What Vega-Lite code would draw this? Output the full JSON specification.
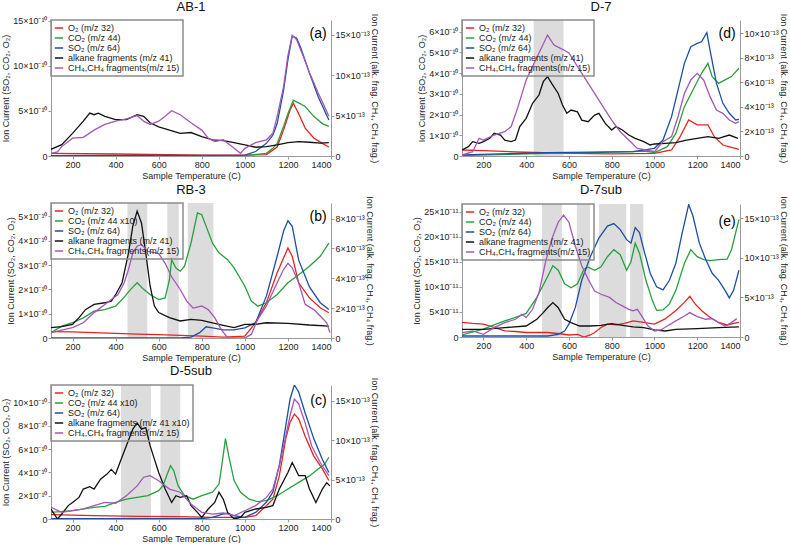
{
  "$schema": "https://vega.github.io/schema/vega-lite/v6.json",
  "description": "Ion current vs sample temperature for five samples, two y axes per panel.",
  "padding": {"left": 1, "top": 1, "right": 0, "bottom": 0},
  "datasets": {
    "ab1": [
      {"s":"O2","t":100,"v":0.3e-10},{"s":"O2","t":400,"v":0.22e-10},{"s":"O2","t":800,"v":0.1e-10},{"s":"O2","t":1000,"v":0.1e-10},{"s":"O2","t":1100,"v":0.15e-10},{"s":"O2","t":1150,"v":1.0e-10},{"s":"O2","t":1180,"v":2.9e-10},{"s":"O2","t":1210,"v":5.1e-10},{"s":"O2","t":1225,"v":5.85e-10},{"s":"O2","t":1250,"v":4.7e-10},{"s":"O2","t":1280,"v":3.1e-10},{"s":"O2","t":1320,"v":2.0e-10},{"s":"O2","t":1360,"v":1.4e-10},{"s":"O2","t":1390,"v":1.0e-10},
      {"s":"CO2","t":100,"v":0.05e-10},{"s":"CO2","t":1000,"v":0.05e-10},{"s":"CO2","t":1100,"v":0.3e-10},{"s":"CO2","t":1130,"v":0.85e-10},{"s":"CO2","t":1150,"v":1.4e-10},{"s":"CO2","t":1180,"v":3.3e-10},{"s":"CO2","t":1200,"v":4.7e-10},{"s":"CO2","t":1225,"v":6.2e-10},{"s":"CO2","t":1250,"v":5.9e-10},{"s":"CO2","t":1280,"v":5.5e-10},{"s":"CO2","t":1320,"v":4.4e-10},{"s":"CO2","t":1360,"v":3.6e-10},{"s":"CO2","t":1390,"v":3.3e-10},
      {"s":"SO2","t":100,"v":0.05e-10},{"s":"SO2","t":1000,"v":0.1e-10},{"s":"SO2","t":1050,"v":0.5e-10},{"s":"SO2","t":1100,"v":1.4e-10},{"s":"SO2","t":1130,"v":2.3e-10},{"s":"SO2","t":1150,"v":3.6e-10},{"s":"SO2","t":1180,"v":7.3e-10},{"s":"SO2","t":1200,"v":10.7e-10},{"s":"SO2","t":1220,"v":13.3e-10},{"s":"SO2","t":1240,"v":13.1e-10},{"s":"SO2","t":1260,"v":12.0e-10},{"s":"SO2","t":1300,"v":9.2e-10},{"s":"SO2","t":1340,"v":6.6e-10},{"s":"SO2","t":1390,"v":4.0e-10},
      {"s":"alk","t":100,"v":0.83e-13},{"s":"alk","t":150,"v":1.4e-13},{"s":"alk","t":200,"v":2.8e-13},{"s":"alk","t":250,"v":4.3e-13},{"s":"alk","t":280,"v":5.3e-13},{"s":"alk","t":300,"v":5.1e-13},{"s":"alk","t":320,"v":5.3e-13},{"s":"alk","t":350,"v":4.9e-13},{"s":"alk","t":400,"v":4.5e-13},{"s":"alk","t":450,"v":4.5e-13},{"s":"alk","t":500,"v":5.1e-13},{"s":"alk","t":530,"v":4.9e-13},{"s":"alk","t":560,"v":4.1e-13},{"s":"alk","t":600,"v":3.6e-13},{"s":"alk","t":650,"v":3.2e-13},{"s":"alk","t":700,"v":2.8e-13},{"s":"alk","t":750,"v":2.9e-13},{"s":"alk","t":800,"v":2.4e-13},{"s":"alk","t":850,"v":2.0e-13},{"s":"alk","t":900,"v":1.9e-13},{"s":"alk","t":950,"v":1.66e-13},{"s":"alk","t":1000,"v":1.37e-13},{"s":"alk","t":1050,"v":1.08e-13},{"s":"alk","t":1100,"v":1.16e-13},{"s":"alk","t":1150,"v":1.37e-13},{"s":"alk","t":1200,"v":1.66e-13},{"s":"alk","t":1250,"v":1.78e-13},{"s":"alk","t":1300,"v":1.7e-13},{"s":"alk","t":1350,"v":1.58e-13},{"s":"alk","t":1390,"v":1.66e-13},
      {"s":"CH4","t":100,"v":0.33e-13},{"s":"CH4","t":130,"v":0.5e-13},{"s":"CH4","t":150,"v":1.16e-13},{"s":"CH4","t":200,"v":2.2e-13},{"s":"CH4","t":250,"v":2.3e-13},{"s":"CH4","t":300,"v":3.2e-13},{"s":"CH4","t":350,"v":3.9e-13},{"s":"CH4","t":400,"v":4.3e-13},{"s":"CH4","t":450,"v":4.6e-13},{"s":"CH4","t":500,"v":5.0e-13},{"s":"CH4","t":530,"v":4.3e-13},{"s":"CH4","t":560,"v":3.9e-13},{"s":"CH4","t":600,"v":4.3e-13},{"s":"CH4","t":630,"v":4.9e-13},{"s":"CH4","t":660,"v":5.6e-13},{"s":"CH4","t":700,"v":5.1e-13},{"s":"CH4","t":750,"v":4.1e-13},{"s":"CH4","t":800,"v":3.2e-13},{"s":"CH4","t":830,"v":2.2e-13},{"s":"CH4","t":860,"v":1.78e-13},{"s":"CH4","t":900,"v":2.0e-13},{"s":"CH4","t":950,"v":0.95e-13},{"s":"CH4","t":980,"v":0.33e-13},{"s":"CH4","t":1000,"v":0.95e-13},{"s":"CH4","t":1050,"v":1.66e-13},{"s":"CH4","t":1100,"v":2.0e-13},{"s":"CH4","t":1130,"v":2.8e-13},{"s":"CH4","t":1150,"v":4.9e-13},{"s":"CH4","t":1180,"v":8.6e-13},{"s":"CH4","t":1200,"v":12.4e-13},{"s":"CH4","t":1220,"v":14.9e-13},{"s":"CH4","t":1240,"v":14.4e-13},{"s":"CH4","t":1270,"v":12.4e-13},{"s":"CH4","t":1300,"v":10.3e-13},{"s":"CH4","t":1340,"v":7.8e-13},{"s":"CH4","t":1370,"v":6.1e-13},{"s":"CH4","t":1390,"v":4.9e-13}
    ],
    "rb3": [
      {"s":"O2","t":100,"v":0.26e-10},{"s":"O2","t":200,"v":0.25e-10},{"s":"O2","t":300,"v":0.22e-10},{"s":"O2","t":400,"v":0.19e-10},{"s":"O2","t":500,"v":0.16e-10},{"s":"O2","t":600,"v":0.14e-10},{"s":"O2","t":700,"v":0.11e-10},{"s":"O2","t":800,"v":0.08e-10},{"s":"O2","t":900,"v":0.04e-10},{"s":"O2","t":1000,"v":0.08e-10},{"s":"O2","t":1050,"v":0.63e-10},{"s":"O2","t":1100,"v":1.45e-10},{"s":"O2","t":1150,"v":2.68e-10},{"s":"O2","t":1200,"v":3.7e-10},{"s":"O2","t":1220,"v":3.36e-10},{"s":"O2","t":1250,"v":2.27e-10},{"s":"O2","t":1300,"v":1.65e-10},{"s":"O2","t":1350,"v":1.24e-10},{"s":"O2","t":1390,"v":1.04e-10},
      {"s":"CO2","t":100,"v":0.22e-10},{"s":"CO2","t":150,"v":0.49e-10},{"s":"CO2","t":200,"v":0.63e-10},{"s":"CO2","t":250,"v":0.83e-10},{"s":"CO2","t":300,"v":1.1e-10},{"s":"CO2","t":350,"v":1.17e-10},{"s":"CO2","t":400,"v":1.31e-10},{"s":"CO2","t":430,"v":1.58e-10},{"s":"CO2","t":470,"v":2.0e-10},{"s":"CO2","t":500,"v":2.27e-10},{"s":"CO2","t":530,"v":2.0e-10},{"s":"CO2","t":560,"v":1.79e-10},{"s":"CO2","t":600,"v":1.58e-10},{"s":"CO2","t":630,"v":1.65e-10},{"s":"CO2","t":650,"v":2.4e-10},{"s":"CO2","t":660,"v":3.22e-10},{"s":"CO2","t":680,"v":2.88e-10},{"s":"CO2","t":700,"v":2.75e-10},{"s":"CO2","t":720,"v":2.95e-10},{"s":"CO2","t":750,"v":3.9e-10},{"s":"CO2","t":780,"v":5.14e-10},{"s":"CO2","t":800,"v":5.07e-10},{"s":"CO2","t":820,"v":4.6e-10},{"s":"CO2","t":850,"v":3.9e-10},{"s":"CO2","t":880,"v":3.5e-10},{"s":"CO2","t":920,"v":3.22e-10},{"s":"CO2","t":950,"v":2.88e-10},{"s":"CO2","t":1000,"v":2.13e-10},{"s":"CO2","t":1030,"v":1.52e-10},{"s":"CO2","t":1060,"v":1.31e-10},{"s":"CO2","t":1100,"v":1.45e-10},{"s":"CO2","t":1150,"v":1.79e-10},{"s":"CO2","t":1200,"v":2.27e-10},{"s":"CO2","t":1250,"v":2.6e-10},{"s":"CO2","t":1300,"v":2.95e-10},{"s":"CO2","t":1350,"v":3.36e-10},{"s":"CO2","t":1390,"v":3.9e-10},
      {"s":"SO2","t":100,"v":0},{"s":"SO2","t":700,"v":0},{"s":"SO2","t":750,"v":0.04e-10},{"s":"SO2","t":790,"v":0.22e-10},{"s":"SO2","t":820,"v":0.46e-10},{"s":"SO2","t":850,"v":0.42e-10},{"s":"SO2","t":900,"v":0.33e-10},{"s":"SO2","t":950,"v":0.33e-10},{"s":"SO2","t":1000,"v":0.42e-10},{"s":"SO2","t":1050,"v":0.63e-10},{"s":"SO2","t":1100,"v":1.72e-10},{"s":"SO2","t":1150,"v":3.36e-10},{"s":"SO2","t":1180,"v":4.4e-10},{"s":"SO2","t":1200,"v":4.82e-10},{"s":"SO2","t":1220,"v":4.59e-10},{"s":"SO2","t":1250,"v":3.2e-10},{"s":"SO2","t":1300,"v":2.1e-10},{"s":"SO2","t":1350,"v":1.45e-10},{"s":"SO2","t":1390,"v":1.17e-10},
      {"s":"alk","t":100,"v":0.69e-13},{"s":"alk","t":150,"v":0.76e-13},{"s":"alk","t":200,"v":0.91e-13},{"s":"alk","t":230,"v":1.36e-13},{"s":"alk","t":260,"v":1.9e-13},{"s":"alk","t":300,"v":2.25e-13},{"s":"alk","t":350,"v":2.36e-13},{"s":"alk","t":380,"v":2.47e-13},{"s":"alk","t":400,"v":2.9e-13},{"s":"alk","t":430,"v":3.7e-13},{"s":"alk","t":460,"v":5.7e-13},{"s":"alk","t":480,"v":7.5e-13},{"s":"alk","t":500,"v":8.5e-13},{"s":"alk","t":520,"v":7.7e-13},{"s":"alk","t":540,"v":5.7e-13},{"s":"alk","t":560,"v":3.5e-13},{"s":"alk","t":580,"v":2.14e-13},{"s":"alk","t":600,"v":1.7e-13},{"s":"alk","t":650,"v":1.36e-13},{"s":"alk","t":700,"v":1.14e-13},{"s":"alk","t":750,"v":1.25e-13},{"s":"alk","t":800,"v":1.18e-13},{"s":"alk","t":850,"v":1.02e-13},{"s":"alk","t":900,"v":0.85e-13},{"s":"alk","t":950,"v":0.69e-13},{"s":"alk","t":1000,"v":0.91e-13},{"s":"alk","t":1050,"v":0.91e-13},{"s":"alk","t":1100,"v":1.02e-13},{"s":"alk","t":1200,"v":0.98e-13},{"s":"alk","t":1300,"v":0.87e-13},{"s":"alk","t":1390,"v":0.8e-13},
      {"s":"CH4","t":100,"v":0.36e-13},{"s":"CH4","t":150,"v":0.53e-13},{"s":"CH4","t":200,"v":0.69e-13},{"s":"CH4","t":250,"v":1.02e-13},{"s":"CH4","t":300,"v":1.7e-13},{"s":"CH4","t":350,"v":2.25e-13},{"s":"CH4","t":380,"v":2.58e-13},{"s":"CH4","t":410,"v":2.9e-13},{"s":"CH4","t":440,"v":3.7e-13},{"s":"CH4","t":460,"v":4.6e-13},{"s":"CH4","t":480,"v":5.7e-13},{"s":"CH4","t":500,"v":6.15e-13},{"s":"CH4","t":520,"v":6.26e-13},{"s":"CH4","t":550,"v":5.8e-13},{"s":"CH4","t":600,"v":5.66e-13},{"s":"CH4","t":630,"v":5.0e-13},{"s":"CH4","t":660,"v":4.1e-13},{"s":"CH4","t":700,"v":3.25e-13},{"s":"CH4","t":730,"v":2.47e-13},{"s":"CH4","t":760,"v":2.0e-13},{"s":"CH4","t":800,"v":2.14e-13},{"s":"CH4","t":830,"v":1.9e-13},{"s":"CH4","t":860,"v":1.36e-13},{"s":"CH4","t":890,"v":0.58e-13},{"s":"CH4","t":920,"v":0},{"s":"CH4","t":1000,"v":0},{"s":"CH4","t":1030,"v":0.24e-13},{"s":"CH4","t":1060,"v":1.25e-13},{"s":"CH4","t":1100,"v":2.14e-13},{"s":"CH4","t":1150,"v":3.7e-13},{"s":"CH4","t":1180,"v":4.6e-13},{"s":"CH4","t":1200,"v":5.0e-13},{"s":"CH4","t":1220,"v":4.7e-13},{"s":"CH4","t":1250,"v":3.7e-13},{"s":"CH4","t":1280,"v":2.25e-13},{"s":"CH4","t":1320,"v":1.9e-13},{"s":"CH4","t":1350,"v":1.47e-13},{"s":"CH4","t":1380,"v":1.02e-13},{"s":"CH4","t":1395,"v":0.36e-13}
    ],
    "d5sub": [
      {"s":"O2","t":100,"v":0.37e-10},{"s":"O2","t":300,"v":0.29e-10},{"s":"O2","t":500,"v":0.23e-10},{"s":"O2","t":700,"v":0.2e-10},{"s":"O2","t":850,"v":0.14e-10},{"s":"O2","t":1000,"v":0.14e-10},{"s":"O2","t":1050,"v":0.29e-10},{"s":"O2","t":1100,"v":1.14e-10},{"s":"O2","t":1130,"v":1.7e-10},{"s":"O2","t":1160,"v":3.7e-10},{"s":"O2","t":1190,"v":6.9e-10},{"s":"O2","t":1210,"v":8.3e-10},{"s":"O2","t":1230,"v":9.0e-10},{"s":"O2","t":1250,"v":8.6e-10},{"s":"O2","t":1280,"v":7.1e-10},{"s":"O2","t":1320,"v":5.4e-10},{"s":"O2","t":1360,"v":4.3e-10},{"s":"O2","t":1390,"v":3.3e-10},
      {"s":"CO2","t":100,"v":0.57e-10},{"s":"CO2","t":200,"v":0.71e-10},{"s":"CO2","t":300,"v":1.0e-10},{"s":"CO2","t":350,"v":1.09e-10},{"s":"CO2","t":400,"v":1.43e-10},{"s":"CO2","t":450,"v":1.7e-10},{"s":"CO2","t":500,"v":1.86e-10},{"s":"CO2","t":550,"v":2.0e-10},{"s":"CO2","t":600,"v":2.43e-10},{"s":"CO2","t":620,"v":2.86e-10},{"s":"CO2","t":640,"v":3.86e-10},{"s":"CO2","t":655,"v":4.57e-10},{"s":"CO2","t":670,"v":4.14e-10},{"s":"CO2","t":690,"v":2.86e-10},{"s":"CO2","t":720,"v":2.0e-10},{"s":"CO2","t":760,"v":1.7e-10},{"s":"CO2","t":800,"v":2.0e-10},{"s":"CO2","t":850,"v":2.3e-10},{"s":"CO2","t":880,"v":3.0e-10},{"s":"CO2","t":895,"v":4.86e-10},{"s":"CO2","t":910,"v":6.9e-10},{"s":"CO2","t":925,"v":5.43e-10},{"s":"CO2","t":950,"v":3.3e-10},{"s":"CO2","t":980,"v":2.3e-10},{"s":"CO2","t":1020,"v":1.7e-10},{"s":"CO2","t":1060,"v":1.49e-10},{"s":"CO2","t":1100,"v":1.57e-10},{"s":"CO2","t":1150,"v":2.0e-10},{"s":"CO2","t":1200,"v":2.57e-10},{"s":"CO2","t":1250,"v":3.14e-10},{"s":"CO2","t":1300,"v":3.7e-10},{"s":"CO2","t":1340,"v":4.3e-10},{"s":"CO2","t":1370,"v":4.7e-10},{"s":"CO2","t":1390,"v":5.3e-10},
      {"s":"SO2","t":100,"v":0.03e-10},{"s":"SO2","t":800,"v":0.03e-10},{"s":"SO2","t":850,"v":0.14e-10},{"s":"SO2","t":900,"v":0.43e-10},{"s":"SO2","t":920,"v":0.5e-10},{"s":"SO2","t":950,"v":0.28e-10},{"s":"SO2","t":1000,"v":0.14e-10},{"s":"SO2","t":1050,"v":0.57e-10},{"s":"SO2","t":1100,"v":1.43e-10},{"s":"SO2","t":1130,"v":2.3e-10},{"s":"SO2","t":1160,"v":4.6e-10},{"s":"SO2","t":1190,"v":8.0e-10},{"s":"SO2","t":1210,"v":10.3e-10},{"s":"SO2","t":1230,"v":11.5e-10},{"s":"SO2","t":1250,"v":10.9e-10},{"s":"SO2","t":1280,"v":9.1e-10},{"s":"SO2","t":1320,"v":6.9e-10},{"s":"SO2","t":1360,"v":5.1e-10},{"s":"SO2","t":1390,"v":4.0e-10},
      {"s":"alk","t":100,"v":1.27e-13},{"s":"alk","t":130,"v":0},{"s":"alk","t":150,"v":0.63e-13},{"s":"alk","t":180,"v":1.7e-13},{"s":"alk","t":200,"v":2.1e-13},{"s":"alk","t":230,"v":2.74e-13},{"s":"alk","t":250,"v":3.8e-13},{"s":"alk","t":280,"v":4.1e-13},{"s":"alk","t":300,"v":3.8e-13},{"s":"alk","t":330,"v":5.06e-13},{"s":"alk","t":360,"v":5.7e-13},{"s":"alk","t":380,"v":6.3e-13},{"s":"alk","t":400,"v":5.7e-13},{"s":"alk","t":420,"v":7.17e-13},{"s":"alk","t":450,"v":9.3e-13},{"s":"alk","t":480,"v":11.4e-13},{"s":"alk","t":500,"v":12.2e-13},{"s":"alk","t":520,"v":11.4e-13},{"s":"alk","t":540,"v":11.6e-13},{"s":"alk","t":560,"v":9.3e-13},{"s":"alk","t":580,"v":7.6e-13},{"s":"alk","t":600,"v":5.9e-13},{"s":"alk","t":630,"v":3.8e-13},{"s":"alk","t":660,"v":2.1e-13},{"s":"alk","t":680,"v":2.95e-13},{"s":"alk","t":700,"v":2.74e-13},{"s":"alk","t":730,"v":2.95e-13},{"s":"alk","t":750,"v":1.7e-13},{"s":"alk","t":780,"v":0.84e-13},{"s":"alk","t":800,"v":0.2e-13},{"s":"alk","t":830,"v":1.27e-13},{"s":"alk","t":860,"v":2.1e-13},{"s":"alk","t":880,"v":3.4e-13},{"s":"alk","t":900,"v":2.5e-13},{"s":"alk","t":920,"v":0.84e-13},{"s":"alk","t":950,"v":0},{"s":"alk","t":980,"v":0.2e-13},{"s":"alk","t":1000,"v":0.84e-13},{"s":"alk","t":1050,"v":1.27e-13},{"s":"alk","t":1100,"v":1.48e-13},{"s":"alk","t":1130,"v":1.7e-13},{"s":"alk","t":1160,"v":3.8e-13},{"s":"alk","t":1200,"v":5.9e-13},{"s":"alk","t":1220,"v":7.17e-13},{"s":"alk","t":1250,"v":5.5e-13},{"s":"alk","t":1280,"v":5.5e-13},{"s":"alk","t":1300,"v":3.8e-13},{"s":"alk","t":1330,"v":2.1e-13},{"s":"alk","t":1360,"v":3.8e-13},{"s":"alk","t":1380,"v":4.6e-13},{"s":"alk","t":1395,"v":4.2e-13},
      {"s":"CH4","t":100,"v":1.48e-13},{"s":"CH4","t":150,"v":0.84e-13},{"s":"CH4","t":200,"v":1.05e-13},{"s":"CH4","t":250,"v":1.27e-13},{"s":"CH4","t":300,"v":1.7e-13},{"s":"CH4","t":350,"v":2.1e-13},{"s":"CH4","t":400,"v":2.0e-13},{"s":"CH4","t":450,"v":2.95e-13},{"s":"CH4","t":500,"v":4.2e-13},{"s":"CH4","t":530,"v":5.3e-13},{"s":"CH4","t":560,"v":5.5e-13},{"s":"CH4","t":600,"v":4.85e-13},{"s":"CH4","t":650,"v":3.8e-13},{"s":"CH4","t":700,"v":3.4e-13},{"s":"CH4","t":750,"v":1.9e-13},{"s":"CH4","t":800,"v":0.84e-13},{"s":"CH4","t":850,"v":0.63e-13},{"s":"CH4","t":900,"v":0.76e-13},{"s":"CH4","t":950,"v":0.42e-13},{"s":"CH4","t":1000,"v":1.05e-13},{"s":"CH4","t":1050,"v":1.7e-13},{"s":"CH4","t":1100,"v":2.74e-13},{"s":"CH4","t":1130,"v":3.8e-13},{"s":"CH4","t":1160,"v":6.75e-13},{"s":"CH4","t":1190,"v":10.5e-13},{"s":"CH4","t":1210,"v":13.1e-13},{"s":"CH4","t":1230,"v":15.2e-13},{"s":"CH4","t":1250,"v":14.6e-13},{"s":"CH4","t":1280,"v":12.2e-13},{"s":"CH4","t":1310,"v":9.3e-13},{"s":"CH4","t":1350,"v":7.17e-13},{"s":"CH4","t":1390,"v":5.5e-13}
    ],
    "d7": [
      {"s":"O2","t":100,"v":0.29e-10},{"s":"O2","t":200,"v":0.26e-10},{"s":"O2","t":400,"v":0.18e-10},{"s":"O2","t":600,"v":0.13e-10},{"s":"O2","t":800,"v":0.1e-10},{"s":"O2","t":1000,"v":0.13e-10},{"s":"O2","t":1080,"v":0.29e-10},{"s":"O2","t":1120,"v":0.93e-10},{"s":"O2","t":1160,"v":1.74e-10},{"s":"O2","t":1200,"v":1.5e-10},{"s":"O2","t":1250,"v":1.5e-10},{"s":"O2","t":1280,"v":0.93e-10},{"s":"O2","t":1320,"v":0.53e-10},{"s":"O2","t":1360,"v":0.42e-10},{"s":"O2","t":1395,"v":0.32e-10},
      {"s":"CO2","t":100,"v":0.02e-10},{"s":"CO2","t":500,"v":0.13e-10},{"s":"CO2","t":700,"v":0.16e-10},{"s":"CO2","t":900,"v":0.21e-10},{"s":"CO2","t":950,"v":0.24e-10},{"s":"CO2","t":1000,"v":0.16e-10},{"s":"CO2","t":1060,"v":0.45e-10},{"s":"CO2","t":1100,"v":1.09e-10},{"s":"CO2","t":1140,"v":2.38e-10},{"s":"CO2","t":1180,"v":3.18e-10},{"s":"CO2","t":1220,"v":3.99e-10},{"s":"CO2","t":1250,"v":4.47e-10},{"s":"CO2","t":1270,"v":3.83e-10},{"s":"CO2","t":1300,"v":3.5e-10},{"s":"CO2","t":1330,"v":3.67e-10},{"s":"CO2","t":1360,"v":3.83e-10},{"s":"CO2","t":1395,"v":4.23e-10},
      {"s":"SO2","t":100,"v":0.05e-10},{"s":"SO2","t":500,"v":0.16e-10},{"s":"SO2","t":900,"v":0.21e-10},{"s":"SO2","t":1000,"v":0.37e-10},{"s":"SO2","t":1040,"v":0.77e-10},{"s":"SO2","t":1080,"v":1.9e-10},{"s":"SO2","t":1110,"v":3.18e-10},{"s":"SO2","t":1140,"v":4.47e-10},{"s":"SO2","t":1170,"v":5.27e-10},{"s":"SO2","t":1200,"v":5.43e-10},{"s":"SO2","t":1220,"v":5.51e-10},{"s":"SO2","t":1245,"v":5.95e-10},{"s":"SO2","t":1260,"v":5.1e-10},{"s":"SO2","t":1290,"v":3.5e-10},{"s":"SO2","t":1320,"v":2.54e-10},{"s":"SO2","t":1350,"v":2.06e-10},{"s":"SO2","t":1380,"v":1.74e-10},{"s":"SO2","t":1395,"v":1.77e-10},
      {"s":"alk","t":100,"v":0.49e-13},{"s":"alk","t":130,"v":0.76e-13},{"s":"alk","t":150,"v":1.17e-13},{"s":"alk","t":180,"v":1.03e-13},{"s":"alk","t":200,"v":1.17e-13},{"s":"alk","t":230,"v":1.44e-13},{"s":"alk","t":250,"v":1.85e-13},{"s":"alk","t":280,"v":1.71e-13},{"s":"alk","t":300,"v":1.3e-13},{"s":"alk","t":330,"v":1.17e-13},{"s":"alk","t":350,"v":1.3e-13},{"s":"alk","t":370,"v":2.4e-13},{"s":"alk","t":400,"v":3.07e-13},{"s":"alk","t":430,"v":4.3e-13},{"s":"alk","t":460,"v":4.97e-13},{"s":"alk","t":480,"v":6.06e-13},{"s":"alk","t":500,"v":6.47e-13},{"s":"alk","t":520,"v":5.9e-13},{"s":"alk","t":550,"v":5.1e-13},{"s":"alk","t":570,"v":4.16e-13},{"s":"alk","t":590,"v":3.48e-13},{"s":"alk","t":610,"v":3.75e-13},{"s":"alk","t":640,"v":3.6e-13},{"s":"alk","t":660,"v":2.93e-13},{"s":"alk","t":690,"v":2.8e-13},{"s":"alk","t":720,"v":3.34e-13},{"s":"alk","t":740,"v":3.48e-13},{"s":"alk","t":770,"v":2.66e-13},{"s":"alk","t":800,"v":2.12e-13},{"s":"alk","t":820,"v":2.4e-13},{"s":"alk","t":850,"v":2.12e-13},{"s":"alk","t":880,"v":1.71e-13},{"s":"alk","t":910,"v":1.44e-13},{"s":"alk","t":950,"v":1.17e-13},{"s":"alk","t":980,"v":0.9e-13},{"s":"alk","t":1000,"v":0.98e-13},{"s":"alk","t":1050,"v":1.03e-13},{"s":"alk","t":1100,"v":1.09e-13},{"s":"alk","t":1150,"v":1.3e-13},{"s":"alk","t":1200,"v":1.44e-13},{"s":"alk","t":1250,"v":1.58e-13},{"s":"alk","t":1300,"v":1.44e-13},{"s":"alk","t":1350,"v":1.71e-13},{"s":"alk","t":1390,"v":1.44e-13},
      {"s":"CH4","t":100,"v":0.08e-13},{"s":"CH4","t":150,"v":0.35e-13},{"s":"CH4","t":180,"v":1.44e-13},{"s":"CH4","t":200,"v":1.3e-13},{"s":"CH4","t":250,"v":1.71e-13},{"s":"CH4","t":300,"v":1.98e-13},{"s":"CH4","t":330,"v":2.4e-13},{"s":"CH4","t":360,"v":3.9e-13},{"s":"CH4","t":400,"v":6.2e-13},{"s":"CH4","t":430,"v":7.3e-13},{"s":"CH4","t":460,"v":8.4e-13},{"s":"CH4","t":500,"v":9.86e-13},{"s":"CH4","t":530,"v":9.05e-13},{"s":"CH4","t":570,"v":8.7e-13},{"s":"CH4","t":600,"v":8.4e-13},{"s":"CH4","t":640,"v":7.3e-13},{"s":"CH4","t":680,"v":6.2e-13},{"s":"CH4","t":720,"v":5.1e-13},{"s":"CH4","t":760,"v":4.0e-13},{"s":"CH4","t":800,"v":2.93e-13},{"s":"CH4","t":840,"v":1.98e-13},{"s":"CH4","t":880,"v":1.3e-13},{"s":"CH4","t":920,"v":0.62e-13},{"s":"CH4","t":960,"v":0.49e-13},{"s":"CH4","t":1000,"v":0.35e-13},{"s":"CH4","t":1040,"v":1.17e-13},{"s":"CH4","t":1080,"v":1.58e-13},{"s":"CH4","t":1110,"v":3.2e-13},{"s":"CH4","t":1140,"v":5.1e-13},{"s":"CH4","t":1170,"v":6.2e-13},{"s":"CH4","t":1200,"v":6.74e-13},{"s":"CH4","t":1230,"v":6.2e-13},{"s":"CH4","t":1260,"v":4.84e-13},{"s":"CH4","t":1290,"v":3.75e-13},{"s":"CH4","t":1320,"v":3.48e-13},{"s":"CH4","t":1350,"v":2.93e-13},{"s":"CH4","t":1380,"v":2.66e-13},{"s":"CH4","t":1395,"v":2.8e-13}
    ],
    "d7sub": [
      {"s":"O2","t":100,"v":2.9e-11},{"s":"O2","t":150,"v":2.7e-11},{"s":"O2","t":200,"v":2.56e-11},{"s":"O2","t":250,"v":1.9e-11},{"s":"O2","t":300,"v":1.2e-11},{"s":"O2","t":350,"v":1.1e-11},{"s":"O2","t":400,"v":0.9e-11},{"s":"O2","t":450,"v":0.9e-11},{"s":"O2","t":500,"v":0.9e-11},{"s":"O2","t":550,"v":0.7e-11},{"s":"O2","t":600,"v":0.4e-11},{"s":"O2","t":640,"v":0.54e-11},{"s":"O2","t":670,"v":0},{"s":"O2","t":700,"v":0.4e-11},{"s":"O2","t":720,"v":0.9e-11},{"s":"O2","t":750,"v":1.9e-11},{"s":"O2","t":780,"v":2.56e-11},{"s":"O2","t":820,"v":2.4e-11},{"s":"O2","t":860,"v":2.7e-11},{"s":"O2","t":900,"v":3.2e-11},{"s":"O2","t":950,"v":2.9e-11},{"s":"O2","t":1000,"v":2.56e-11},{"s":"O2","t":1050,"v":3.6e-11},{"s":"O2","t":1100,"v":5.3e-11},{"s":"O2","t":1140,"v":6.9e-11},{"s":"O2","t":1165,"v":8.1e-11},{"s":"O2","t":1190,"v":6.6e-11},{"s":"O2","t":1220,"v":5.3e-11},{"s":"O2","t":1260,"v":3.9e-11},{"s":"O2","t":1300,"v":2.9e-11},{"s":"O2","t":1340,"v":2.4e-11},{"s":"O2","t":1370,"v":2.7e-11},{"s":"O2","t":1395,"v":2.9e-11},
      {"s":"CO2","t":100,"v":0.4e-11},{"s":"CO2","t":200,"v":1.55e-11},{"s":"CO2","t":250,"v":2.4e-11},{"s":"CO2","t":300,"v":3.2e-11},{"s":"CO2","t":350,"v":3.9e-11},{"s":"CO2","t":400,"v":4.7e-11},{"s":"CO2","t":450,"v":7.9e-11},{"s":"CO2","t":500,"v":12.0e-11},{"s":"CO2","t":525,"v":14.2e-11},{"s":"CO2","t":550,"v":13.3e-11},{"s":"CO2","t":580,"v":10.6e-11},{"s":"CO2","t":610,"v":9.8e-11},{"s":"CO2","t":640,"v":10.6e-11},{"s":"CO2","t":670,"v":13.5e-11},{"s":"CO2","t":690,"v":13.9e-11},{"s":"CO2","t":720,"v":13.3e-11},{"s":"CO2","t":750,"v":14.0e-11},{"s":"CO2","t":780,"v":16.0e-11},{"s":"CO2","t":810,"v":17.4e-11},{"s":"CO2","t":840,"v":16.4e-11},{"s":"CO2","t":870,"v":13.3e-11},{"s":"CO2","t":890,"v":15.0e-11},{"s":"CO2","t":910,"v":18.7e-11},{"s":"CO2","t":930,"v":16.7e-11},{"s":"CO2","t":960,"v":11.3e-11},{"s":"CO2","t":990,"v":7.3e-11},{"s":"CO2","t":1010,"v":5.3e-11},{"s":"CO2","t":1040,"v":5.4e-11},{"s":"CO2","t":1070,"v":6.6e-11},{"s":"CO2","t":1100,"v":9.3e-11},{"s":"CO2","t":1140,"v":14.7e-11},{"s":"CO2","t":1170,"v":17.4e-11},{"s":"CO2","t":1200,"v":16.0e-11},{"s":"CO2","t":1230,"v":15.4e-11},{"s":"CO2","t":1260,"v":15.2e-11},{"s":"CO2","t":1300,"v":15.4e-11},{"s":"CO2","t":1340,"v":15.5e-11},{"s":"CO2","t":1360,"v":17.4e-11},{"s":"CO2","t":1380,"v":20.8e-11},{"s":"CO2","t":1395,"v":23.4e-11},
      {"s":"SO2","t":100,"v":0.2e-11},{"s":"SO2","t":500,"v":0.2e-11},{"s":"SO2","t":550,"v":0.54e-11},{"s":"SO2","t":580,"v":1.2e-11},{"s":"SO2","t":600,"v":2.56e-11},{"s":"SO2","t":630,"v":5.9e-11},{"s":"SO2","t":660,"v":11.3e-11},{"s":"SO2","t":700,"v":16.0e-11},{"s":"SO2","t":740,"v":19.7e-11},{"s":"SO2","t":780,"v":22.1e-11},{"s":"SO2","t":810,"v":22.6e-11},{"s":"SO2","t":840,"v":21.4e-11},{"s":"SO2","t":870,"v":19.4e-11},{"s":"SO2","t":890,"v":18.7e-11},{"s":"SO2","t":910,"v":21.8e-11},{"s":"SO2","t":930,"v":20.8e-11},{"s":"SO2","t":950,"v":17.4e-11},{"s":"SO2","t":980,"v":12.7e-11},{"s":"SO2","t":1010,"v":10.0e-11},{"s":"SO2","t":1040,"v":9.4e-11},{"s":"SO2","t":1070,"v":11.3e-11},{"s":"SO2","t":1100,"v":14.7e-11},{"s":"SO2","t":1130,"v":20.8e-11},{"s":"SO2","t":1160,"v":26.4e-11},{"s":"SO2","t":1180,"v":24.1e-11},{"s":"SO2","t":1210,"v":18.7e-11},{"s":"SO2","t":1240,"v":15.4e-11},{"s":"SO2","t":1270,"v":12.7e-11},{"s":"SO2","t":1300,"v":11.3e-11},{"s":"SO2","t":1330,"v":9.3e-11},{"s":"SO2","t":1350,"v":7.8e-11},{"s":"SO2","t":1370,"v":9.3e-11},{"s":"SO2","t":1395,"v":13.3e-11},
      {"s":"alk","t":100,"v":0.97e-13},{"s":"alk","t":200,"v":0.97e-13},{"s":"alk","t":300,"v":1.18e-13},{"s":"alk","t":400,"v":1.39e-13},{"s":"alk","t":450,"v":2.24e-13},{"s":"alk","t":480,"v":3.08e-13},{"s":"alk","t":500,"v":3.7e-13},{"s":"alk","t":525,"v":4.35e-13},{"s":"alk","t":550,"v":3.7e-13},{"s":"alk","t":580,"v":2.24e-13},{"s":"alk","t":610,"v":1.82e-13},{"s":"alk","t":650,"v":1.39e-13},{"s":"alk","t":700,"v":1.39e-13},{"s":"alk","t":750,"v":1.48e-13},{"s":"alk","t":800,"v":1.69e-13},{"s":"alk","t":850,"v":1.48e-13},{"s":"alk","t":900,"v":1.27e-13},{"s":"alk","t":950,"v":1.18e-13},{"s":"alk","t":1000,"v":0.89e-13},{"s":"alk","t":1050,"v":0.76e-13},{"s":"alk","t":1100,"v":0.97e-13},{"s":"alk","t":1200,"v":1.06e-13},{"s":"alk","t":1300,"v":1.18e-13},{"s":"alk","t":1395,"v":1.27e-13},
      {"s":"CH4","t":100,"v":0.55e-13},{"s":"CH4","t":150,"v":0.76e-13},{"s":"CH4","t":200,"v":0.34e-13},{"s":"CH4","t":250,"v":1.18e-13},{"s":"CH4","t":300,"v":1.82e-13},{"s":"CH4","t":350,"v":2.24e-13},{"s":"CH4","t":380,"v":2.87e-13},{"s":"CH4","t":400,"v":2.45e-13},{"s":"CH4","t":430,"v":3.5e-13},{"s":"CH4","t":460,"v":5.6e-13},{"s":"CH4","t":490,"v":9.4e-13},{"s":"CH4","t":520,"v":12.4e-13},{"s":"CH4","t":550,"v":14.5e-13},{"s":"CH4","t":575,"v":15.4e-13},{"s":"CH4","t":600,"v":14.5e-13},{"s":"CH4","t":630,"v":11.5e-13},{"s":"CH4","t":660,"v":9.0e-13},{"s":"CH4","t":690,"v":7.3e-13},{"s":"CH4","t":720,"v":5.8e-13},{"s":"CH4","t":750,"v":5.4e-13},{"s":"CH4","t":790,"v":5.0e-13},{"s":"CH4","t":820,"v":4.35e-13},{"s":"CH4","t":850,"v":3.93e-13},{"s":"CH4","t":880,"v":3.5e-13},{"s":"CH4","t":900,"v":3.3e-13},{"s":"CH4","t":920,"v":3.5e-13},{"s":"CH4","t":940,"v":2.66e-13},{"s":"CH4","t":970,"v":1.39e-13},{"s":"CH4","t":1000,"v":0.76e-13},{"s":"CH4","t":1030,"v":0.89e-13},{"s":"CH4","t":1060,"v":1.39e-13},{"s":"CH4","t":1100,"v":2.03e-13},{"s":"CH4","t":1140,"v":2.66e-13},{"s":"CH4","t":1165,"v":3.08e-13},{"s":"CH4","t":1200,"v":2.58e-13},{"s":"CH4","t":1240,"v":2.24e-13},{"s":"CH4","t":1270,"v":2.32e-13},{"s":"CH4","t":1300,"v":1.82e-13},{"s":"CH4","t":1330,"v":1.39e-13},{"s":"CH4","t":1360,"v":1.82e-13},{"s":"CH4","t":1385,"v":2.32e-13}
    ]
  },
  "hconcat": [
    {
      "vconcat": [
        {
          "title": "AB-1",
          "width": 280, "height": 136,
          "data": {"name": "ab1"},
          "layer": [
            {
              "transform": [{"filter": "datum.s=='O2'||datum.s=='CO2'||datum.s=='SO2'"}],
              "mark": {"type": "line", "strokeWidth": 1.3, "clip": true},
              "encoding": {
                "x": {"field": "t", "type": "quantitative", "scale": {"domain": [100, 1400], "nice": false}, "axis": {"values": [200, 400, 600, 800, 1000, 1200, 1400], "format": "d", "title": "Sample Temperature (C)"}},
                "y": {"field": "v", "type": "quantitative", "scale": {"domain": [0, 1.51e-9], "nice": false}, "axis": {"orient": "left", "values": [0, 5e-10, 1e-9, 1.5e-9], "labelExpr": "datum.value == 0 ? '0' : format(datum.value * 1e10, 'd') + '×10⁻¹⁰'", "title": "Ion Current (SO₂, CO₂, O₂)"}},
                "color": {"field": "s", "type": "nominal", "scale": {"domain": ["O2", "CO2", "SO2", "alk", "CH4"], "range": ["#e8231f", "#26a03c", "#1d4ea3", "#111111", "#a258b4"]}, "legend": {"title": null, "labelExpr": "datum.label=='O2' ? 'O₂ (m/z 32)' : datum.label=='CO2' ? 'CO₂ (m/z 44)' : datum.label=='SO2' ? 'SO₂ (m/z  64)' : datum.label=='alk' ? 'alkane fragments (m/z 41)' : 'CH₄,CH₄ fragments(m/z 15)'"}}
              }
            },
            {
              "transform": [{"filter": "datum.s=='alk'||datum.s=='CH4'"}],
              "mark": {"type": "line", "strokeWidth": 1.3, "clip": true},
              "encoding": {
                "x": {"field": "t", "type": "quantitative", "axis": {"format": "d", "title": "Sample Temperature (C)"}},
                "y": {"field": "v", "type": "quantitative", "scale": {"domain": [0, 1.68e-12], "nice": false}, "axis": {"orient": "right", "titlePadding": 0, "values": [0, 5e-13, 1e-12, 1.5e-12], "labelExpr": "datum.value == 0 ? '0' : format(datum.value * 1e13, 'd') + '×10⁻¹³'", "title": "Ion Current (alk. frag. CH₄, CH₄ frag.)"}},
                "color": {"field": "s", "type": "nominal"}
              }
            },
            {
              "data": {"values": [{"lab": "(a)"}]},
              "mark": {"type": "text", "fontSize": 14, "align": "right", "baseline": "top"},
              "encoding": {
                "x": {"datum": 1380, "type": "quantitative"},
                "y": {"datum": 0.95, "type": "quantitative", "scale": {"domain": [0, 1]}, "axis": null},
                "text": {"field": "lab"}
              }
            }
          ],
          "resolve": {"scale": {"y": "independent"}}
        },
        {
          "title": "RB-3",
          "width": 280, "height": 135,
          "data": {"name": "rb3"},
          "layer": [
            {
              "data": {"values": [{"t": 455, "t2": 547}, {"t": 640, "t2": 693}, {"t": 735, "t2": 854}]},
              "mark": {"type": "rect", "color": "#dcdcdc"},
              "encoding": {
                "x": {"field": "t", "type": "quantitative", "scale": {"domain": [100, 1400], "nice": false}, "axis": {"values": [200, 400, 600, 800, 1000, 1200, 1400], "format": "d", "title": "Sample Temperature (C)"}},
                "x2": {"field": "t2"}
              }
            },
            {
              "transform": [{"filter": "datum.s=='O2'||datum.s=='CO2'||datum.s=='SO2'"}],
              "mark": {"type": "line", "strokeWidth": 1.3, "clip": true},
              "encoding": {
                "x": {"field": "t", "type": "quantitative", "axis": {"format": "d", "title": "Sample Temperature (C)"}},
                "y": {"field": "v", "type": "quantitative", "scale": {"domain": [0, 5.55e-10], "nice": false}, "axis": {"orient": "left", "values": [0, 1e-10, 2e-10, 3e-10, 4e-10, 5e-10], "labelExpr": "datum.value == 0 ? '0' : format(datum.value * 1e10, 'd') + '×10⁻¹⁰'", "title": "Ion Current (SO₂, CO₂, O₂)"}},
                "color": {"field": "s", "type": "nominal", "scale": {"domain": ["O2", "CO2", "SO2", "alk", "CH4"], "range": ["#e8231f", "#26a03c", "#1d4ea3", "#111111", "#a258b4"]}, "legend": {"title": null, "labelExpr": "datum.label=='O2' ? 'O₂ (m/z 32)' : datum.label=='CO2' ? 'CO₂ (m/z 44 x10)' : datum.label=='SO2' ? 'SO₂ (m/z  64)' : datum.label=='alk' ? 'alkane fragments (m/z 41)' : 'CH₄,CH₄ fragments(m/z 15)'"}}
              }
            },
            {
              "transform": [{"filter": "datum.s=='alk'||datum.s=='CH4'"}],
              "mark": {"type": "line", "strokeWidth": 1.3, "clip": true},
              "encoding": {
                "x": {"field": "t", "type": "quantitative", "axis": {"format": "d", "title": "Sample Temperature (C)"}},
                "y": {"field": "v", "type": "quantitative", "scale": {"domain": [0, 9.04e-13], "nice": false}, "axis": {"orient": "right", "titlePadding": 0, "values": [0, 2e-13, 4e-13, 6e-13, 8e-13], "labelExpr": "datum.value == 0 ? '0' : format(datum.value * 1e13, 'd') + '×10⁻¹³'", "title": "Ion Current (alk. frag. CH₄, CH₄ frag.)"}},
                "color": {"field": "s", "type": "nominal"}
              }
            },
            {
              "data": {"values": [{"lab": "(b)"}]},
              "mark": {"type": "text", "fontSize": 14, "align": "right", "baseline": "top"},
              "encoding": {
                "x": {"datum": 1380, "type": "quantitative"},
                "y": {"datum": 0.95, "type": "quantitative", "scale": {"domain": [0, 1]}, "axis": null},
                "text": {"field": "lab"}
              }
            }
          ],
          "resolve": {"scale": {"y": "independent"}}
        },
        {
          "title": "D-5sub",
          "width": 280, "height": 134,
          "data": {"name": "d5sub"},
          "layer": [
            {
              "data": {"values": [{"t": 425, "t2": 564}, {"t": 608, "t2": 700}]},
              "mark": {"type": "rect", "color": "#dcdcdc"},
              "encoding": {
                "x": {"field": "t", "type": "quantitative", "scale": {"domain": [100, 1400], "nice": false}, "axis": {"values": [200, 400, 600, 800, 1000, 1200, 1400], "format": "d", "title": "Sample Temperature (C)"}},
                "x2": {"field": "t2"}
              }
            },
            {
              "transform": [{"filter": "datum.s=='O2'||datum.s=='CO2'||datum.s=='SO2'"}],
              "mark": {"type": "line", "strokeWidth": 1.3, "clip": true},
              "encoding": {
                "x": {"field": "t", "type": "quantitative", "axis": {"format": "d", "title": "Sample Temperature (C)"}},
                "y": {"field": "v", "type": "quantitative", "scale": {"domain": [0, 1.15e-9], "nice": false}, "axis": {"orient": "left", "values": [0, 2e-10, 4e-10, 6e-10, 8e-10, 1e-9], "labelExpr": "datum.value == 0 ? '0' : format(datum.value * 1e10, 'd') + '×10⁻¹⁰'", "title": "Ion Current (SO₂, CO₂, O₂)"}},
                "color": {"field": "s", "type": "nominal", "scale": {"domain": ["O2", "CO2", "SO2", "alk", "CH4"], "range": ["#e8231f", "#26a03c", "#1d4ea3", "#111111", "#a258b4"]}, "legend": {"title": null, "labelExpr": "datum.label=='O2' ? 'O₂ (m/z 32)' : datum.label=='CO2' ? 'CO₂ (m/z 44 x10)' : datum.label=='SO2' ? 'SO₂ (m/z  64)' : datum.label=='alk' ? 'alkane fragments (m/z 41 x10)' : 'CH₄,CH₄ fragments(m/z 15)'"}}
              }
            },
            {
              "transform": [{"filter": "datum.s=='alk'||datum.s=='CH4'"}],
              "mark": {"type": "line", "strokeWidth": 1.3, "clip": true},
              "encoding": {
                "x": {"field": "t", "type": "quantitative", "axis": {"format": "d", "title": "Sample Temperature (C)"}},
                "y": {"field": "v", "type": "quantitative", "scale": {"domain": [0, 1.7e-12], "nice": false}, "axis": {"orient": "right", "titlePadding": 0, "values": [0, 5e-13, 1e-12, 1.5e-12], "labelExpr": "datum.value == 0 ? '0' : format(datum.value * 1e13, 'd') + '×10⁻¹³'", "title": "Ion Current (alk. frag. CH₄, CH₄ frag.)"}},
                "color": {"field": "s", "type": "nominal"}
              }
            },
            {
              "data": {"values": [{"lab": "(c)"}]},
              "mark": {"type": "text", "fontSize": 14, "align": "right", "baseline": "top"},
              "encoding": {
                "x": {"datum": 1380, "type": "quantitative"},
                "y": {"datum": 0.93, "type": "quantitative", "scale": {"domain": [0, 1]}, "axis": null},
                "text": {"field": "lab"}
              }
            }
          ],
          "resolve": {"scale": {"y": "independent"}}
        }
      ],
      "spacing": 3,
      "resolve": {"scale": {"color": "independent"}, "legend": {"color": "independent"}}
    },
    {
      "vconcat": [
        {
          "title": "D-7",
          "width": 278, "height": 136,
          "data": {"name": "d7"},
          "layer": [
            {
              "data": {"values": [{"t": 435, "t2": 575}]},
              "mark": {"type": "rect", "color": "#dcdcdc"},
              "encoding": {
                "x": {"field": "t", "type": "quantitative", "scale": {"domain": [100, 1400], "nice": false}, "axis": {"values": [200, 400, 600, 800, 1000, 1200, 1400], "format": "d", "title": "Sample Temperature (C)"}},
                "x2": {"field": "t2"}
              }
            },
            {
              "transform": [{"filter": "datum.s=='O2'||datum.s=='CO2'||datum.s=='SO2'"}],
              "mark": {"type": "line", "strokeWidth": 1.3, "clip": true},
              "encoding": {
                "x": {"field": "t", "type": "quantitative", "axis": {"format": "d", "title": "Sample Temperature (C)"}},
                "y": {"field": "v", "type": "quantitative", "scale": {"domain": [0, 6.56e-10], "nice": false}, "axis": {"orient": "left", "values": [0, 1e-10, 2e-10, 3e-10, 4e-10, 5e-10, 6e-10], "labelExpr": "datum.value == 0 ? '0' : format(datum.value * 1e10, 'd') + '×10⁻¹⁰'", "title": "Ion Current (SO₂, CO₂, O₂)"}},
                "color": {"field": "s", "type": "nominal", "scale": {"domain": ["O2", "CO2", "SO2", "alk", "CH4"], "range": ["#e8231f", "#26a03c", "#1d4ea3", "#111111", "#a258b4"]}, "legend": {"title": null, "labelExpr": "datum.label=='O2' ? 'O₂ (m/z 32)' : datum.label=='CO2' ? 'CO₂ (m/z 44)' : datum.label=='SO2' ? 'SO₂ (m/z  64)' : datum.label=='alk' ? 'alkane fragments (m/z 41)' : 'CH₄,CH₄ fragments(m/z 15)'"}}
              }
            },
            {
              "transform": [{"filter": "datum.s=='alk'||datum.s=='CH4'"}],
              "mark": {"type": "line", "strokeWidth": 1.3, "clip": true},
              "encoding": {
                "x": {"field": "t", "type": "quantitative", "axis": {"format": "d", "title": "Sample Temperature (C)"}},
                "y": {"field": "v", "type": "quantitative", "scale": {"domain": [0, 1.109e-12], "nice": false}, "axis": {"orient": "right", "titlePadding": 0, "values": [0, 2e-13, 4e-13, 6e-13, 8e-13, 1e-12], "labelExpr": "datum.value == 0 ? '0' : format(datum.value * 1e13, 'd') + '×10⁻¹³'", "title": "Ion Current (alk. frag. CH₄, CH₄ frag.)"}},
                "color": {"field": "s", "type": "nominal"}
              }
            },
            {
              "data": {"values": [{"lab": "(d)"}]},
              "mark": {"type": "text", "fontSize": 14, "align": "right", "baseline": "top"},
              "encoding": {
                "x": {"datum": 1380, "type": "quantitative"},
                "y": {"datum": 0.95, "type": "quantitative", "scale": {"domain": [0, 1]}, "axis": null},
                "text": {"field": "lab"}
              }
            }
          ],
          "resolve": {"scale": {"y": "independent"}}
        },
        {
          "title": "D-7sub",
          "width": 278, "height": 133,
          "data": {"name": "d7sub"},
          "layer": [
            {
              "data": {"values": [{"t": 474, "t2": 567}, {"t": 637, "t2": 699}, {"t": 741, "t2": 868}, {"t": 886, "t2": 948}]},
              "mark": {"type": "rect", "color": "#dcdcdc"},
              "encoding": {
                "x": {"field": "t", "type": "quantitative", "scale": {"domain": [100, 1400], "nice": false}, "axis": {"values": [200, 400, 600, 800, 1000, 1200, 1400], "format": "d", "title": "Sample Temperature (C)"}},
                "x2": {"field": "t2"}
              }
            },
            {
              "transform": [{"filter": "datum.s=='O2'||datum.s=='CO2'||datum.s=='SO2'"}],
              "mark": {"type": "line", "strokeWidth": 1.3, "clip": true},
              "encoding": {
                "x": {"field": "t", "type": "quantitative", "axis": {"format": "d", "title": "Sample Temperature (C)"}},
                "y": {"field": "v", "type": "quantitative", "scale": {"domain": [0, 2.65e-10], "nice": false}, "axis": {"orient": "left", "values": [0, 5e-11, 1e-10, 1.5e-10, 2e-10, 2.5e-10], "labelExpr": "datum.value == 0 ? '0' : format(datum.value * 1e11, 'd') + '×10⁻¹¹'", "title": "Ion Current (SO₂, CO₂, O₂)"}},
                "color": {"field": "s", "type": "nominal", "scale": {"domain": ["O2", "CO2", "SO2", "alk", "CH4"], "range": ["#e8231f", "#26a03c", "#1d4ea3", "#111111", "#a258b4"]}, "legend": {"title": null, "labelExpr": "datum.label=='O2' ? 'O₂ (m/z 32)' : datum.label=='CO2' ? 'CO₂ (m/z 44)' : datum.label=='SO2' ? 'SO₂ (m/z  64)' : datum.label=='alk' ? 'alkane fragments (m/z 41)' : 'CH₄,CH₄ fragments(m/z 15)'"}}
              }
            },
            {
              "transform": [{"filter": "datum.s=='alk'||datum.s=='CH4'"}],
              "mark": {"type": "line", "strokeWidth": 1.3, "clip": true},
              "encoding": {
                "x": {"field": "t", "type": "quantitative", "axis": {"format": "d", "title": "Sample Temperature (C)"}},
                "y": {"field": "v", "type": "quantitative", "scale": {"domain": [0, 1.68e-12], "nice": false}, "axis": {"orient": "right", "titlePadding": 0, "values": [0, 5e-13, 1e-12, 1.5e-12], "labelExpr": "datum.value == 0 ? '0' : format(datum.value * 1e13, 'd') + '×10⁻¹³'", "title": "Ion Current (alk. frag. CH₄, CH₄ frag.)"}},
                "color": {"field": "s", "type": "nominal"}
              }
            },
            {
              "data": {"values": [{"lab": "(e)"}]},
              "mark": {"type": "text", "fontSize": 14, "align": "right", "baseline": "top"},
              "encoding": {
                "x": {"datum": 1380, "type": "quantitative"},
                "y": {"datum": 0.92, "type": "quantitative", "scale": {"domain": [0, 1]}, "axis": null},
                "text": {"field": "lab"}
              }
            }
          ],
          "resolve": {"scale": {"y": "independent"}}
        }
      ],
      "spacing": 3,
      "resolve": {"scale": {"color": "independent"}, "legend": {"color": "independent"}}
    }
  ],
  "spacing": 33,
  "resolve": {"scale": {"color": "independent"}, "legend": {"color": "independent"}},
  "config": {
    "font": "Liberation Sans",
    "view": {"stroke": null},
    "title": {"fontSize": 13, "fontWeight": "normal", "offset": -1, "color": "#111"},
    "axis": {"grid": false, "domainColor": "#9a9a9a", "tickColor": "#9a9a9a", "labelFontSize": 9, "titleFontSize": 9, "titleFontWeight": "normal", "labelColor": "#222", "titleColor": "#222", "tickSize": 3, "labelPadding": 1, "titlePadding": 2},
    "legend": {"orient": "top-left", "offset": 0, "strokeColor": "#8c8c8c", "strokeWidth": 1.5, "padding": 3, "labelFontSize": 9, "labelColor": "#222", "symbolType": "stroke", "symbolSize": 70, "symbolStrokeWidth": 1.5, "rowPadding": -1.5, "labelOffset": 4}
  }
}
